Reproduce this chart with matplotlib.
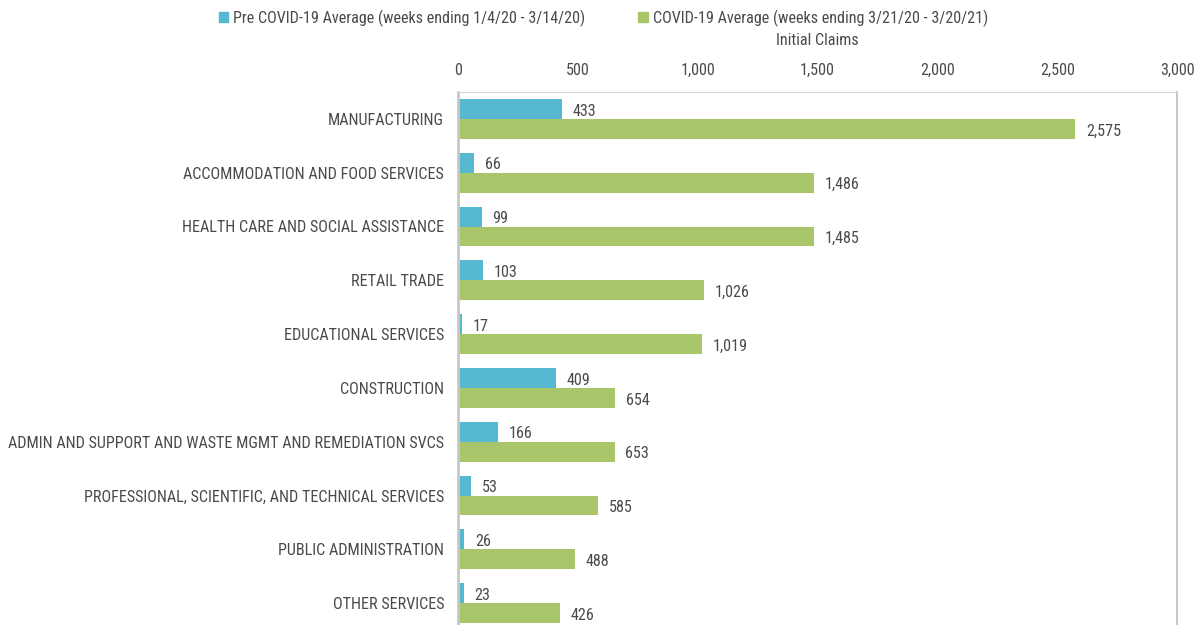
import numpy as np
import matplotlib.pyplot as plt
from matplotlib.patches import Patch

plt.rcParams['font.family'] = ['Roboto Condensed', 'Roboto', 'DejaVu Sans']

# --- dane ---
categories = [
    "MANUFACTURING",
    "ACCOMMODATION AND FOOD SERVICES",
    "HEALTH CARE AND SOCIAL ASSISTANCE",
    "RETAIL TRADE",
    "EDUCATIONAL SERVICES",
    "CONSTRUCTION",
    "ADMIN AND SUPPORT AND WASTE MGMT AND REMEDIATION SVCS",
    "PROFESSIONAL, SCIENTIFIC, AND TECHNICAL SERVICES",
    "PUBLIC ADMINISTRATION",
    "OTHER SERVICES",
]
pre_covid = [433, 66, 99, 103, 17, 409, 166, 53, 26, 23]
covid = [2575, 1486, 1485, 1026, 1019, 654, 653, 585, 488, 426]

label_pre = "Pre COVID-19 Average (weeks ending 1/4/20 - 3/14/20)"
label_covid = "COVID-19 Average (weeks ending 3/21/20 - 3/20/21)"
x_ticks = [0, 500, 1000, 1500, 2000, 2500, 3000]

BLUE = '#57B9D1'
GREEN = '#A9C56A'
TXT = '#4A4A4A'
FS = 11.6

fig = plt.figure(figsize=(11.95, 6.25), dpi=100)
ax = fig.add_axes([0.3833, -0.008, 0.6017, 0.8608])

y = np.arange(len(categories))
h = 0.37
ax.barh(y - h / 2, pre_covid, height=h, color=BLUE)
ax.barh(y + h / 2, covid, height=h, color=GREEN)

# etykiety wartości
for yi, v in zip(y, pre_covid):
    ax.text(v + 45, yi - h / 2 + 0.04, f"{v:,}", va='center', ha='left', fontsize=FS, color=TXT)
for yi, v in zip(y, covid):
    ax.text(v + 45, yi + h / 2 + 0.04, f"{v:,}", va='center', ha='left', fontsize=FS, color=TXT)

ax.set_xlim(0, 3000)
ax.set_ylim(len(categories) - 0.5, -0.5)
ax.set_yticks(y)
ax.set_yticklabels(categories, fontsize=FS, color=TXT)
ax.set_xticks(x_ticks)
ax.set_xticklabels([f"{t:,}" for t in x_ticks], fontsize=FS, color=TXT)
ax.xaxis.tick_top()
ax.xaxis.set_label_position('top')
ax.set_xlabel("Initial Claims", fontsize=FS, color=TXT, labelpad=13)
ax.tick_params(axis='both', length=0)
ax.tick_params(axis='y', pad=10)
ax.tick_params(axis='x', pad=10)

ax.spines['top'].set_color('#D9D9D9')
ax.spines['right'].set_color('#C8C8C8')
ax.spines['right'].set_linewidth(1.5)
ax.spines['left'].set_color('#C8C8C8')
ax.spines['left'].set_linewidth(2)
ax.spines['bottom'].set_visible(False)

handles = [Patch(color=BLUE, label=label_pre), Patch(color=GREEN, label=label_covid)]
fig.legend(handles=handles, loc='upper center', bbox_to_anchor=(0.505, 1.008), ncol=2,
           frameon=False, fontsize=FS, handlelength=0.6, handleheight=0.6,
           handletextpad=0.3, columnspacing=3.3, labelcolor=TXT)

fig.savefig("out.png", dpi=100)
